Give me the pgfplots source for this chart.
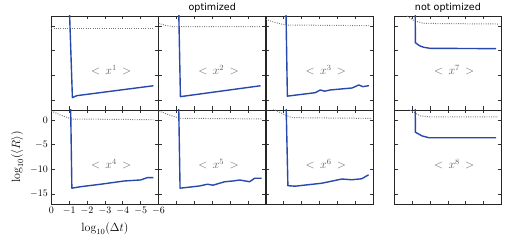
\documentclass[border=0pt]{standalone}
\usepackage{pgfplots}
\pgfplotsset{compat=1.18}
\usepackage{fontspec}
\newfontfamily\titlefont{DejaVu Sans}
\definecolor{myblue}{RGB}{40,72,172}
\definecolor{mygray}{RGB}{120,120,120}
\definecolor{labgray}{RGB}{95,95,95}
\pgfplotsset{
  panel/.style={
    anchor=south west, scale only axis,
    width=107.3bp, height=94bp,
    xmin=-6, xmax=0, x dir=reverse,
    ymin=-17, ymax=2,
    xtick={0,-1,-2,-3,-4,-5,-6},
    ytick={0,-5,-10,-15},
    xticklabels={}, yticklabels={},
    tick align=inside, major tick length=3.5bp,
    axis line style={black!85, line width=0.8pt},
    every tick/.style={black!80, line width=0.7pt},
    tick label style={font=\normalsize},
  },
  blueline/.style={myblue, line width=1.4pt, line join=round},
  dotline/.style={mygray, line width=1pt, dash pattern=on 0.9pt off 1.4pt},
}
\newcommand{\panellabel}[1]{\node[labgray, font=\large] at (axis cs:-3.35,-9) {$<\,x^{#1}\,>$};}
\begin{document}
\begin{tikzpicture}
\path[use as bounding box] (0,0) rectangle (512bp,241bp);
% top row
\begin{axis}[panel, at={(51.3bp,131bp)}]
\addplot[dotline] coordinates {(0,-0.5) (-5.72,-0.5)};
\addplot[blueline] coordinates {(-0.97,8) (-1.18,-14.5) (-1.43,-14.1) (-5.71,-12.1)};
\panellabel{1}
\end{axis}
\begin{axis}[panel, at={(158.6bp,131bp)}, title={\titlefont optimized}, title style={font=\fontsize{9.6}{11}\selectfont, yshift=-5.5bp}]
\addplot[dotline] coordinates {(0,0.5) (-0.4,0.1) (-0.8,-0.15) (-5.72,-0.16)};
\addplot[blueline] coordinates {(-1.1,8) (-1.22,-14.3) (-5.7,-12.1)};
\panellabel{2}
\end{axis}
\begin{axis}[panel, at={(265.9bp,131bp)}]
\addplot[dotline] coordinates {(0,1.33) (-0.5,0.7) (-1.1,0.18) (-5.75,0.04)};
\addplot[blueline] coordinates {(-1.1,8) (-1.2,-14.2) (-2.76,-13.5) (-3.04,-12.95) (-3.28,-13.2) (-3.6,-12.95) (-4.82,-12.55) (-5.2,-11.94) (-5.42,-12.28) (-5.76,-12.08)};
\panellabel{3}
\end{axis}
\begin{axis}[panel, at={(394.3bp,131bp)}, title={\titlefont not optimized}, title style={font=\fontsize{9.6}{11}\selectfont, yshift=-5.5bp}]
\addplot[dotline] coordinates {(-0.6,2.8) (-0.72,2.0) (-1.1,1.05) (-1.65,0.5) (-5.8,0.38)};
\addplot[blueline] coordinates {(-1.16,8) (-1.18,-3.4) (-1.4,-4.0) (-1.65,-4.33) (-2.0,-4.53) (-5.7,-4.6)};
\panellabel{7}
\end{axis}
% bottom row
\begin{axis}[panel, at={(51.3bp,37bp)},
  xticklabels={$0$,$-1$,$-2$,$-3$,$-4$,$-5$,$-6$},
  yticklabels={$0$,$-5$,$-10$,$-15$},
  xlabel={$\log_{10}(\Delta t)$}, ylabel={$\log_{10}(\langle R\rangle)$},
  label style={font=\large},
  xlabel style={yshift=-1bp}, ylabel style={yshift=0bp}]
\addplot[dotline] coordinates {(0,1.8) (-0.5,1.0) (-1.13,0.18) (-5.71,0.04)};
\addplot[blueline] coordinates {(-1.06,8) (-1.15,-13.8) (-1.65,-13.5) (-2.77,-13.0) (-4.07,-12.35) (-5.0,-12.14) (-5.37,-11.67) (-5.71,-11.67)};
\panellabel{4}
\end{axis}
\begin{axis}[panel, at={(158.6bp,37bp)}]
\addplot[dotline] coordinates {(0,1.8) (-0.6,1.0) (-1.18,0.32) (-5.76,0.2)};
\addplot[blueline] coordinates {(-1.1,8) (-1.2,-13.8) (-1.83,-13.55) (-2.3,-13.35) (-2.73,-13.0) (-3.04,-13.2) (-3.32,-12.9) (-3.7,-12.5) (-4.16,-12.35) (-4.53,-12.15) (-5.09,-12.5) (-5.37,-11.8) (-5.76,-11.8)};
\panellabel{5}
\end{axis}
\begin{axis}[panel, at={(265.9bp,37bp)}]
\addplot[dotline] coordinates {(-0.3,2.5) (-0.52,2.0) (-1.08,1.0) (-1.46,0.45) (-5.9,0.3)};
\addplot[blueline] coordinates {(-1.1,8) (-1.23,-13.3) (-1.63,-13.4) (-3.13,-12.8) (-4.25,-11.95) (-4.8,-12.1) (-5.36,-11.9) (-5.74,-11.1)};
\panellabel{6}
\end{axis}
\begin{axis}[panel, at={(394.3bp,37bp)}]
\addplot[dotline] coordinates {(-0.8,2.3) (-0.94,1.8) (-1.46,0.8) (-2.0,0.6) (-5.8,0.6)};
\addplot[blueline] coordinates {(-1.16,8) (-1.18,-2.5) (-1.56,-3.25) (-1.93,-3.6) (-5.7,-3.6)};
\panellabel{8}
\end{axis}
\end{tikzpicture}
\end{document}
